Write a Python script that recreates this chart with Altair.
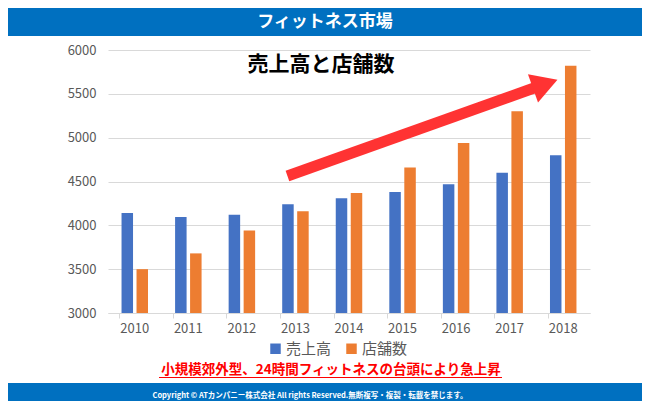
import altair as alt
import pandas as pd

years = ["2010", "2011", "2012", "2013", "2014", "2015", "2016", "2017", "2018"]
sales = [4140, 4095, 4120, 4240, 4310, 4380, 4470, 4600, 4800]
stores = [3500, 3680, 3940, 4160, 4370, 4660, 4940, 5300, 5820]
series_names = ["売上高", "店舗数"]
series_colors = ["#4472C4", "#ED7D31"]

header_text = "フィットネス市場"
chart_title = "売上高と店舗数"
note_text = "小規模郊外型、24時間フィットネスの台頭により急上昇"
copyright_text = "Copyright ©  ATカンパニー株式会社 All rights Reserved.無断複写・複製・転載を禁じます。"

arrow_years = ["2013", "2018"]
arrow_values = [4563, 5612]

JP = "Noto Sans CJK JP"

rows = []
for i, y in enumerate(years):
    rows.append({"year": y, "series": series_names[0], "value": sales[i]})
    rows.append({"year": y, "series": series_names[1], "value": stores[i]})
df = pd.DataFrame(rows)

W, H = 482, 263

xscale = alt.Scale(domain=years, paddingInner=0.44, paddingOuter=0.22)
yscale = alt.Scale(domain=[3000, 6000], nice=False, zero=False)
yaxis = alt.Axis(title=None, values=[3000, 3500, 4000, 4500, 5000, 5500, 6000],
                 format="d", labelFont=JP, labelFontSize=13, labelColor="#595959",
                 ticks=False, domain=False, gridColor="#d9d9d9",
                 labelPadding=12)

bars = alt.Chart(df).mark_bar(clip=True).encode(
    x=alt.X("year:N", scale=xscale, sort=years,
            axis=alt.Axis(title=None, orient="bottom", labelAngle=0, labelFont=JP,
                          labelFontSize=13, labelColor="#595959", ticks=False,
                          domain=True, domainColor="#d9d9d9", labelPadding=9,
                          grid=False)),
    xOffset=alt.XOffset("series:N", sort=series_names,
                        scale=alt.Scale(paddingInner=0.233, paddingOuter=0.117)),
    y=alt.Y("value:Q", scale=yscale, axis=yaxis),
    y2=alt.datum(3000),
    color=alt.Color("series:N", sort=series_names,
                    scale=alt.Scale(domain=series_names, range=series_colors),
                    legend=alt.Legend(title=None, orient="none", direction="horizontal",
                                      legendX=160, legendY=291, symbolType="square",
                                      symbolSize=110, labelFont=JP, labelFontSize=15,
                                      labelColor="#595959", columnPadding=12,
                                      labelOffset=3, symbolStrokeWidth=0)),
)

# tick marks between categories
ticks = alt.Chart(df).mark_tick(opacity=0).encode(
    x=alt.X("year:N", scale=xscale, sort=years,
            axis=alt.Axis(title=None, orient="bottom", labels=False, ticks=True,
                          tickColor="#d9d9d9", tickSize=5, bandPosition=0,
                          domain=False, grid=False)),
    y=alt.Y("value:Q", scale=yscale, axis=yaxis),
)

arrow_df = pd.DataFrame({"y0": [arrow_years[0]], "y1": [arrow_years[1]],
                         "v0": [arrow_values[0]], "v1": [arrow_values[1]]})
arrow_line = alt.Chart(arrow_df).mark_rule(color="#FF3333", strokeWidth=11,
                                           xOffset=-8, x2Offset=-18,
                                           strokeCap="butt").encode(
    x=alt.X("y0:N", scale=xscale, sort=years, axis=None),
    x2="y1:N",
    y=alt.Y("v0:Q", scale=yscale, axis=yaxis),
    y2="v1:Q",
)
arrow_head = alt.Chart(arrow_df).mark_point(shape="triangle-right", filled=True,
                                            color="#FF3333", opacity=1, size=900,
                                            angle=340.4, xOffset=-18).encode(
    x=alt.X("y1:N", scale=xscale, sort=years, axis=None),
    y=alt.Y("v1:Q", scale=yscale, axis=yaxis),
)

one = pd.DataFrame({"a": [0]})
header_rect = alt.Chart(one).mark_rect(color="#0070C0").encode(
    x=alt.value(-100), x2=alt.value(534), y=alt.value(-42), y2=alt.value(-14))
footer_rect = alt.Chart(one).mark_rect(color="#0070C0").encode(
    x=alt.value(-100), x2=alt.value(534), y=alt.value(333), y2=alt.value(360))

header = alt.Chart(pd.DataFrame({"t": [header_text]})).mark_text(
    font=JP, fontSize=17, fontWeight="bold", color="white", baseline="middle").encode(
    x=alt.value(217), y=alt.value(-28), text="t:N")
title = alt.Chart(pd.DataFrame({"t": [chart_title]})).mark_text(
    font=JP, fontSize=21, fontWeight="bold", color="black", baseline="middle").encode(
    x=alt.value(213), y=alt.value(15), text="t:N")
note = alt.Chart(pd.DataFrame({"t": [note_text]})).mark_text(
    font=JP, fontSize=13.5, fontWeight="bold", color="#FF0000", baseline="middle").encode(
    x=alt.value(223), y=alt.value(320), text="t:N")
underline = alt.Chart(one).mark_rule(color="#FF0000", strokeWidth=1.2).encode(
    x=alt.value(51), x2=alt.value(394), y=alt.value(327.5))
copy = alt.Chart(pd.DataFrame({"t": [copyright_text]})).mark_text(
    font=JP, fontSize=7.5, fontWeight="bold", color="white", baseline="middle").encode(
    x=alt.value(202), y=alt.value(346), text="t:N")

chart = alt.layer(
    header_rect, footer_rect, bars, ticks, arrow_line, arrow_head,
    header, title, note, underline, copy
).resolve_axis(x="independent").properties(
    width=W, height=H,
    autosize=alt.AutoSizeParams(type="none"),
    padding={"left": 100, "top": 42, "right": 52, "bottom": 88},
).configure_view(stroke=None)

chart.save("out.html", embed_options={"renderer": "svg", "actions": False})
